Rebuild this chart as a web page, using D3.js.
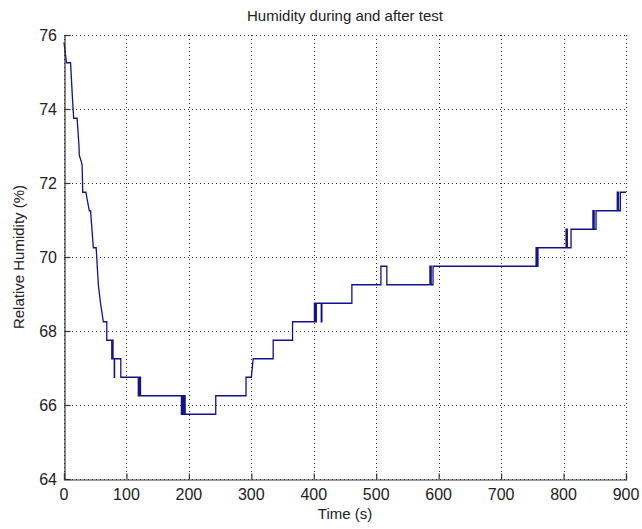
<!DOCTYPE html>
<html>
<head>
<meta charset="utf-8">
<script src="https://cdn.jsdelivr.net/npm/d3@7"></script>
<style>
  body { margin: 0; background: #fff; }
  text { font-family: "Liberation Sans", Arial, sans-serif; fill: #222; }
</style>
</head>
<body>
<script>
// humidity trace (time in s, RH in %)
var times = [0, 4, 10.5, 13.5, 15.5, 21, 24, 24.5, 29, 30, 35, 40.5, 42.5, 47, 51.5, 55, 58.5, 63, 68.5, 68.5,
  76.5, 76.5, 77.5, 77.5, 78.5, 78.5, 80.5, 80.5, 81, 81, 91, 91, 119, 119, 120, 120, 121, 121, 122, 122,
  122.5, 122.5, 188, 188, 189.5, 189.5, 191, 191, 192.5, 192.5, 194, 194, 243, 243, 291.5, 291.5, 300, 303,
  335, 335, 366, 366, 401, 401, 403, 403, 404, 404, 412, 412, 413, 413, 461, 461, 507.5, 507.5, 517, 517,
  586, 586, 588, 588, 591, 591, 756, 756, 757.5, 757.5, 759, 759, 804, 804, 806, 806, 812, 812,
  847, 847, 849, 849, 852, 852, 886, 886, 888, 888, 891, 891, 900];
var humidity = [75.8, 75.25, 75.25, 74.3, 73.75, 73.75, 73.0, 72.75, 72.5, 71.75, 71.75, 71.25, 71.25, 70.25, 70.25, 69.25, 68.75, 68.25, 68.25, 67.75,
  67.75, 67.25, 67.25, 67.75, 67.75, 67.25, 67.25, 66.75, 66.75, 67.25, 67.25, 66.75, 66.75, 66.25, 66.25, 66.75, 66.75, 66.25, 66.25, 66.75,
  66.75, 66.25, 66.25, 65.75, 65.75, 66.25, 66.25, 65.75, 65.75, 66.25, 66.25, 65.75, 65.75, 66.25, 66.25, 66.75, 66.75, 67.25,
  67.25, 67.75, 67.75, 68.25, 68.25, 68.75, 68.75, 68.25, 68.25, 68.75, 68.75, 68.25, 68.25, 68.75, 68.75, 69.25, 69.25, 69.75, 69.75, 69.25,
  69.25, 69.75, 69.75, 69.25, 69.25, 69.75, 69.75, 70.25, 70.25, 69.75, 69.75, 70.25, 70.25, 70.75, 70.75, 70.25, 70.25, 70.75,
  70.75, 71.25, 71.25, 70.75, 70.75, 71.25, 71.25, 71.75, 71.75, 71.25, 71.25, 71.75, 71.75];

var xTicks = [0, 100, 200, 300, 400, 500, 600, 700, 800, 900];
var yTicks = [64, 66, 68, 70, 72, 74, 76];

var titleText = "Humidity during and after test";
var xLabel = "Time (s)";
var yLabel = "Relative Humidity (%)";

var width = 642, height = 529;
var margin = {left: 64, right: 626, top: 35, bottom: 479};

var svg = d3.select("body").append("svg")
    .attr("width", width)
    .attr("height", height);

var x = d3.scaleLinear().domain([0, 900]).range([margin.left, margin.right]);
var y = d3.scaleLinear().domain([64, 76]).range([margin.bottom, margin.top]);

// dotted grid
var grid = svg.append("g").attr("class", "grid");
grid.selectAll("line.v").data(xTicks).enter().append("line")
    .attr("x1", function(d) { return Math.round(x(d)) + 0.5; })
    .attr("x2", function(d) { return Math.round(x(d)) + 0.5; })
    .attr("y1", margin.top).attr("y2", margin.bottom)
    .attr("stroke", "#333").attr("stroke-dasharray", "1,3");
grid.selectAll("line.h").data(yTicks).enter().append("line")
    .attr("y1", function(d) { return Math.round(y(d)) + 0.5; })
    .attr("y2", function(d) { return Math.round(y(d)) + 0.5; })
    .attr("x1", margin.left).attr("x2", margin.right)
    .attr("stroke", "#333").attr("stroke-dasharray", "1,3");

// the trace
var pts = times.map(function(t, i) { return [t, humidity[i]]; });
var line = d3.line()
    .x(function(d) { return x(d[0]); })
    .y(function(d) { return y(d[1]); });

svg.append("path")
    .datum(pts)
    .attr("d", line)
    .attr("fill", "none")
    .attr("stroke", "#12128c")
    .attr("stroke-width", 1.3);

// axes, ticks pointing inward like matlab
svg.append("g")
    .attr("transform", "translate(0," + (margin.bottom + 0.5) + ")")
    .call(d3.axisTop(x).tickValues(xTicks).tickSize(6).tickFormat(""));
svg.append("g")
    .attr("transform", "translate(" + (margin.left + 0.5) + ",0)")
    .call(d3.axisRight(y).tickValues(yTicks).tickSize(6).tickFormat(""));
svg.selectAll(".domain, .tick line").attr("stroke", "#333").attr("stroke-width", 1.2);

svg.append("g").selectAll("text").data(xTicks).enter().append("text")
    .attr("x", function(d) { return x(d); })
    .attr("y", margin.bottom + 21)
    .attr("text-anchor", "middle")
    .style("font-size", "16px")
    .text(function(d) { return d; });

svg.append("g").selectAll("text").data(yTicks).enter().append("text")
    .attr("x", margin.left - 7)
    .attr("y", function(d) { return y(d) + 6; })
    .attr("text-anchor", "end")
    .style("font-size", "16px")
    .text(function(d) { return d; });

svg.append("text")
    .attr("x", (margin.left + margin.right) / 2)
    .attr("y", 21)
    .attr("text-anchor", "middle")
    .style("font-size", "15px")
    .text(titleText);

svg.append("text")
    .attr("x", (margin.left + margin.right) / 2)
    .attr("y", 519)
    .attr("text-anchor", "middle")
    .style("font-size", "15px")
    .text(xLabel);

svg.append("text")
    .attr("transform", "translate(24," + ((margin.top + margin.bottom) / 2) + ") rotate(-90)")
    .attr("text-anchor", "middle")
    .style("font-size", "15px")
    .text(yLabel);
</script>
</body>
</html>
